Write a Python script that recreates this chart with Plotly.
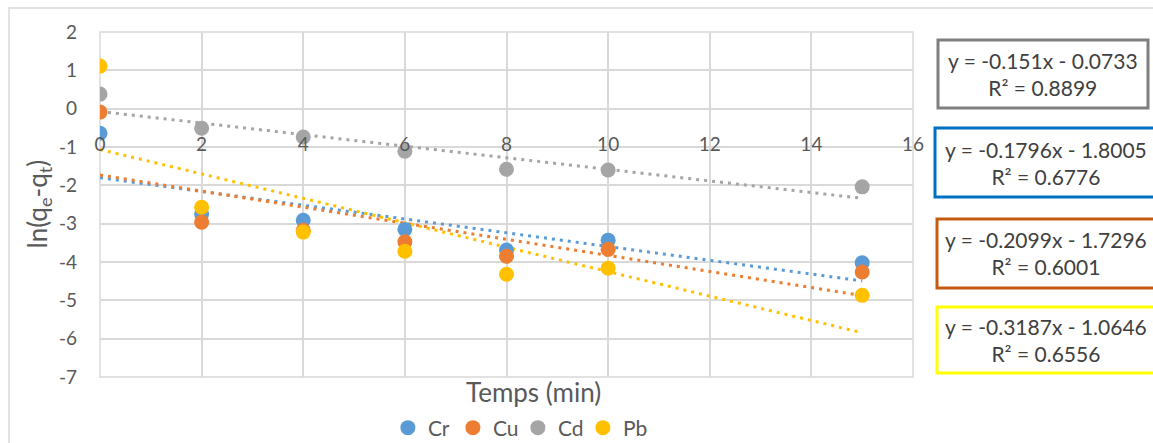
import numpy as np
import plotly.graph_objects as go

# ---- data ----
temps = [0, 2, 4, 6, 8, 10, 15]
cr = [-0.64, -2.75, -2.91, -3.15, -3.69, -3.43, -4.02]
cu = [-0.09, -2.96, -3.17, -3.47, -3.85, -3.67, -4.26]
cd = [0.38, -0.51, -0.74, -1.11, -1.58, -1.60, -2.04]
pb = [1.11, -2.57, -3.22, -3.72, -4.32, -4.16, -4.87]

series_names = ["Cr", "Cu", "Cd", "Pb"]
series_vals = [cr, cu, cd, pb]
slopes = [-0.1796, -0.2099, -0.151, -0.3187]
intercepts = [-1.8005, -1.7296, -0.0733, -1.0646]
r2 = [0.6776, 0.6001, 0.8899, 0.6556]

x_ticks = [0, 2, 4, 6, 8, 10, 12, 14, 16]
y_ticks = [2, 1, 0, -1, -2, -3, -4, -5, -6, -7]

# ---- style ----
colors = ["#5b9bd5", "#ed7d31", "#a5a5a5", "#ffc000"]
box_colors = ["#0070c0", "#c55a11", "#7f7f7f", "#ffff00"]
FONT = "Lato"
TXT = "#595959"
GRID = "#d9d9d9"

fig = go.Figure()

for name, vals, m, b, c in zip(series_names, series_vals, slopes, intercepts, colors):
    xs = np.array([min(temps), max(temps)], dtype=float)
    fig.add_trace(go.Scatter(x=xs, y=m * xs + b, mode="lines",
                             line=dict(color=c, width=3, dash="3px,5px"),
                             showlegend=False, hoverinfo="skip"))

for name, vals, c in zip(series_names, series_vals, colors):
    fig.add_trace(go.Scatter(x=temps, y=vals, mode="markers", name=name,
                             marker=dict(color=c, size=15)))

W, H = 1153, 443
L, R, T, B = 100, 240, 32, 66
pw, ph = W - L - R, H - T - B


def px2x(px):
    return (px - L) / pw


def px2y(py):
    return (H - B - py) / ph


fig.update_layout(
    width=W, height=H,
    margin=dict(l=L, r=R, t=T, b=B, autoexpand=False),
    paper_bgcolor="white", plot_bgcolor="white",
    font=dict(family=FONT, color=TXT, size=19),
    showlegend=True,
    legend=dict(orientation="h", x=0.514, xanchor="center", y=px2y(428), yanchor="middle",
                font=dict(size=21, color=TXT), itemsizing="trace",
                entrywidth=20, entrywidthmode="pixels",
                tracegroupgap=0, bgcolor="rgba(0,0,0,0)"),
    xaxis=dict(range=[0, 16], tickvals=x_ticks, ticktext=[str(v) for v in x_ticks],
               showgrid=True, gridcolor=GRID, gridwidth=1.5, zeroline=False,
               showline=False, anchor="free", position=7 / 9,
               ticks="", ticklabelstandoff=22,
               tickfont=dict(size=19, color=TXT)),
    yaxis=dict(range=[-7, 2], tickvals=y_ticks, ticktext=[str(v) for v in y_ticks],
               showgrid=True, gridcolor=GRID, gridwidth=1.5, zeroline=False,
               showline=False, ticks="", ticklabelstandoff=22,
               tickfont=dict(size=19, color=TXT), domain=[0, 1]),
)

shapes = [
    dict(type="rect", xref="paper", yref="paper", x0=0, x1=1, y0=0, y1=1,
         line=dict(color=GRID, width=1.5), layer="below"),
    dict(type="rect", xref="paper", yref="paper", x0=px2x(9), x1=px2x(1160),
         y0=px2y(460), y1=px2y(8), line=dict(color=GRID, width=1.5), layer="below"),
]

# equation boxes: gray, blue, orange, yellow (top to bottom)
order = [2, 0, 1, 3]
box_px = [(938, 1148, 40, 108), (935, 1160, 128, 197), (937, 1160, 219, 288), (937, 1160, 307, 373)]
text_cx = [1043, 1046, 1046, 1046]
annotations = []
for (x0, x1, y0, y1), i, cx in zip(box_px, order, text_cx):
    shapes.append(dict(type="rect", xref="paper", yref="paper",
                       x0=px2x(x0), x1=px2x(x1), y0=px2y(y1), y1=px2y(y0),
                       line=dict(color=box_colors[i], width=3), fillcolor="white"))
    m, b = slopes[i], intercepts[i]
    eq = f"y = {m:g}x - {abs(b):g}<br>R² = {r2[i]:.4f}"
    annotations.append(dict(x=px2x(cx), y=px2y((y0 + y1) / 2), xref="paper", yref="paper",
                            xanchor="center", yanchor="middle",
                            text=eq, showarrow=False, align="center",
                            font=dict(size=21, color="#404040", family=FONT)))

annotations.append(dict(x=px2x(533), y=px2y(392), xref="paper", yref="paper",
                        xanchor="center", yanchor="middle",
                        text="Temps (min)", showarrow=False,
                        font=dict(size=26, color=TXT, family=FONT)))
annotations.append(dict(x=px2x(38), y=0.5, xref="paper", yref="paper",
                        xanchor="center", yanchor="middle",
                        text="ln(q<sub>e</sub>-q<sub>t</sub>)", showarrow=False, textangle=-90,
                        font=dict(size=26, color=TXT, family=FONT)))

fig.update_layout(shapes=shapes, annotations=annotations)
fig.write_html("out.html")
